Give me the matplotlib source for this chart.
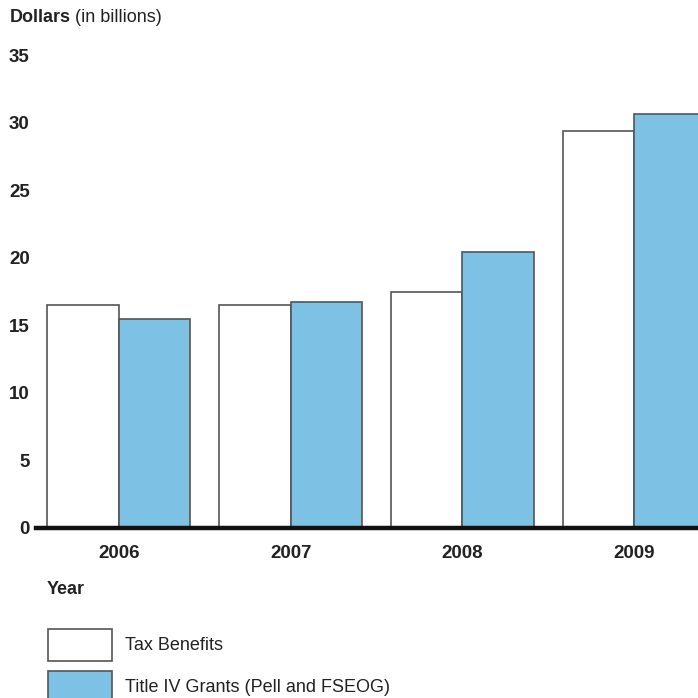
import matplotlib.pyplot as plt
from matplotlib.patches import Rectangle
import numpy as np

years = ['2006', '2007', '2008', '2009']
tax_benefits = [16.5, 16.5, 17.5, 29.4]
title_iv_grants = [15.5, 16.7, 20.4, 30.6]
y_ticks = [0, 5, 10, 15, 20, 25, 30, 35]

plt.rcParams['font.family'] = ['Liberation Sans', 'DejaVu Sans']
fs = 13
fsb = 13.5
blue = '#7dc1e4'
edge = '#555555'

W = H = 698
fig = plt.figure(figsize=(6.98, 6.98), dpi=100)
# axes box in pixel terms: left 36, right 698, bottom y=528, top y=55
ax = fig.add_axes([36 / W, 1 - 528 / H, (698 - 36) / W, (528 - 55) / H])

x = np.arange(len(years))
bw = 0.4165
ax.bar(x - bw / 2, tax_benefits, bw, color='white', edgecolor=edge, linewidth=1.2, zorder=2)
ax.bar(x + bw / 2, title_iv_grants, bw, color=blue, edgecolor=edge, linewidth=1.2, zorder=2)

ax.set_xlim(-0.483, 3.372)
ax.set_ylim(0, 35)
ax.set_yticks(y_ticks)
ax.set_xticks(x)
ax.set_xticklabels(years)
for s in ['top', 'right', 'left']:
    ax.spines[s].set_visible(False)
ax.spines['bottom'].set_linewidth(3.2)
ax.spines['bottom'].set_color('#111111')
ax.spines['bottom'].set_zorder(3)
ax.tick_params(axis='y', length=0, pad=4.5, labelsize=fsb, labelcolor='#222222')
ax.tick_params(axis='x', length=0, pad=12.5, labelsize=fsb, labelcolor='#222222')
for lab in ax.get_xticklabels() + ax.get_yticklabels():
    lab.set_fontweight('bold')

# axis titles
fig.text(10 / W, 1 - 18 / H, 'Dollars', fontsize=fs, fontweight='bold', va='center', ha='left',
         color='#222222')
fig.text(75 / W, 1 - 18 / H, '(in billions)', fontsize=fs, va='center', ha='left', color='#222222')
fig.text(47 / W, 1 - 590 / H, 'Year', fontsize=fs, fontweight='bold', va='center', ha='left',
         color='#222222')

# legend
fig.patches.append(Rectangle((48 / W, 1 - 661 / H), 64 / W, 32 / H, transform=fig.transFigure,
                             facecolor='white', edgecolor=edge, linewidth=1.2))
fig.patches.append(Rectangle((48 / W, 1 - 703 / H), 64 / W, 32 / H, transform=fig.transFigure,
                             facecolor=blue, edgecolor=edge, linewidth=1.2))
fig.text(125 / W, 1 - 645 / H, 'Tax Benefits', fontsize=fs, va='center', ha='left', color='#222222')
fig.text(125 / W, 1 - 688 / H, 'Title IV Grants (Pell and FSEOG)', fontsize=fs, va='center',
         ha='left', color='#222222')

fig.savefig('out.png', dpi=100)
